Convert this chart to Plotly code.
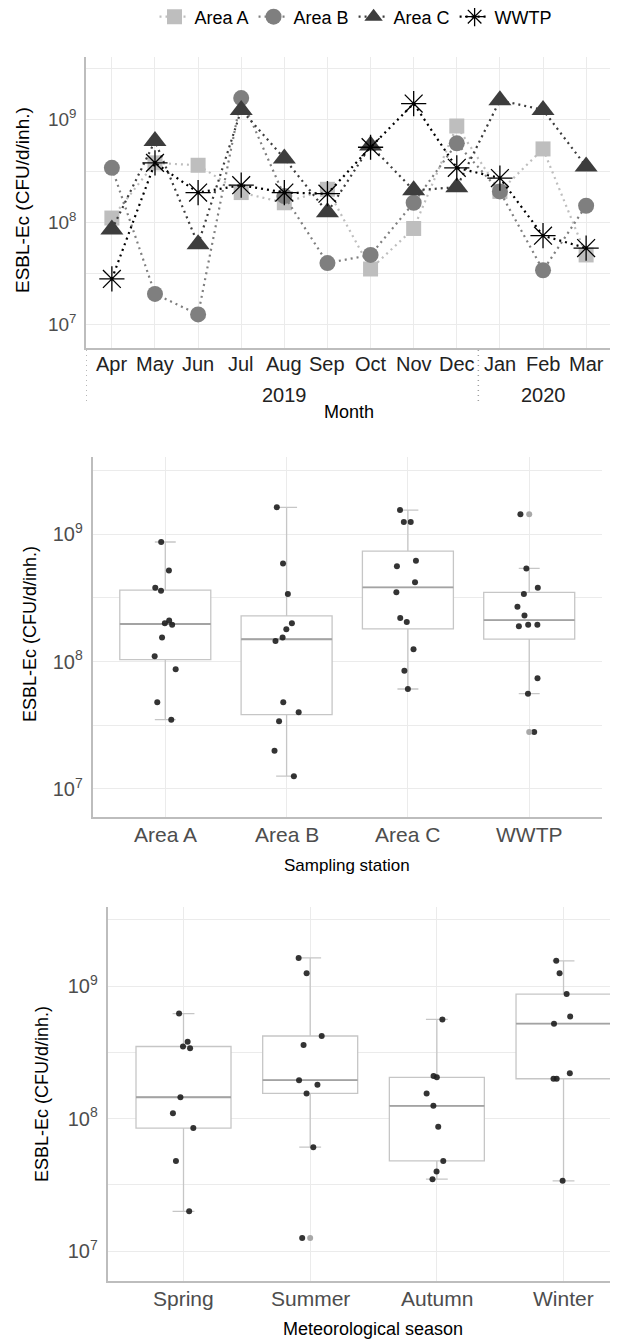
import numpy as np
import plotly.graph_objects as go

# ---------------- data ----------------
months = ["Apr", "May", "Jun", "Jul", "Aug", "Sep", "Oct", "Nov", "Dec", "Jan", "Feb", "Mar"]
years = ["2019"] * 9 + ["2020"] * 3
area_a = [1.1e8, 3.8e8, 3.6e8, 1.95e8, 1.55e8, 2.1e8, 3.5e7, 8.7e7, 8.7e8, 2.0e8, 5.2e8, 4.8e7]
area_b = [3.4e8, 2.0e7, 1.26e7, 1.63e9, 1.8e8, 4.0e7, 4.8e7, 1.55e8, 5.9e8, 2.0e8, 3.4e7, 1.45e8]
area_c = [8.5e7, 6.2e8, 6.1e7, 1.25e9, 4.2e8, 1.25e8, 5.6e8, 2.05e8, 2.2e8, 1.55e9, 1.25e9, 3.5e8]
wwtp = [2.8e7, 3.8e8, 1.95e8, 2.3e8, 1.95e8, 1.9e8, 5.4e8, 1.44e9, 3.4e8, 2.7e8, 7.4e7, 5.6e7]
stations = ["Area A", "Area B", "Area C", "WWTP"]
seasons = ["Spring", "Summer", "Autumn", "Winter"]
season_of_month = ["Spring", "Spring", "Summer", "Summer", "Summer", "Autumn",
                   "Autumn", "Autumn", "Winter", "Winter", "Winter", "Spring"]
ytick_vals = [7, 8, 9]
ytick_text = ["10<sup>7</sup>", "10<sup>8</sup>", "10<sup>9</sup>"]
y_title = "ESBL-Ec (CFU/d/inh.)"

series = {"Area A": area_a, "Area B": area_b, "Area C": area_c, "WWTP": wwtp}
styles = {
    "Area A": dict(symbol="square", color="#BEBEBE", size=15),
    "Area B": dict(symbol="circle", color="#7F7F7F", size=16),
    "Area C": dict(symbol="triangle-up", color="#3D3D3D", size=20),
    "WWTP": dict(symbol="asterisk-open", color="#000000", size=21),
}

# the page body has an 8px margin, so the figure is drawn 8px in from the
# window's top-left corner; positions below are given in window pixels
OFF = 8
W, H = 618 - OFF, 1342 - OFF
FONT = "Liberation Sans, Arial, sans-serif"


def px_x(p):
    return (p - OFF) / W


def px_y(p):
    return 1 - (p - OFF) / H


def box_stats(vals):
    v = np.sort(np.log10(np.asarray(vals, dtype=float)))
    q1, med, q3 = np.percentile(v, [25, 50, 75])
    iqr = q3 - q1
    lo = v[v >= q1 - 1.5 * iqr].min()
    hi = v[v <= q3 + 1.5 * iqr].max()
    out = v[(v < lo) | (v > hi)]
    return q1, med, q3, lo, hi, out


fig = go.Figure()

# ---------------- panel 1: monthly lines ----------------
for name, vals in series.items():
    st = styles[name]
    marker = dict(symbol=st["symbol"], size=st["size"], color=st["color"])
    if name == "WWTP":
        marker["line"] = dict(color="#000000", width=1.3)
    fig.add_trace(go.Scatter(
        x=months, y=np.log10(vals), name=name,
        mode="lines+markers",
        line=dict(color=st["color"], width=2.2, dash="2px,4px"),
        marker=marker, xaxis="x", yaxis="y"))

# ---------------- panel 2 & 3: boxplots ----------------
def add_box_panel(groups, cats, xa, ya):
    stats = [box_stats(groups[c]) for c in cats]
    fig.add_trace(go.Box(
        x=cats, q1=[s[0] for s in stats], median=[s[1] for s in stats],
        q3=[s[2] for s in stats], lowerfence=[s[3] for s in stats],
        upperfence=[s[4] for s in stats], boxpoints=False,
        width=0.75, whiskerwidth=0.23, fillcolor="white",
        line=dict(color="#C6C6C6", width=1.3), showlegend=False,
        xaxis=xa, yaxis=ya))
    # darker median line
    meds = [s[1] for s in stats]
    fig.add_trace(go.Box(
        x=cats, q1=meds, median=meds, q3=meds, lowerfence=meds, upperfence=meds,
        boxpoints=False, width=0.75, whiskerwidth=0, fillcolor="rgba(0,0,0,0)",
        line=dict(color="#A3A3A3", width=1.8), showlegend=False,
        xaxis=xa, yaxis=ya))
    ox, oy = [], []
    for c, s in zip(cats, stats):
        ox += [c] * len(s[5])
        oy += list(s[5])
    fig.add_trace(go.Scatter(
        x=ox, y=oy, mode="markers", marker=dict(color="#A8A8A8", size=6),
        showlegend=False, xaxis=xa, yaxis=ya))
    jx, jy = [], []
    for c in cats:
        jx += [c] * len(groups[c])
        jy += list(np.log10(groups[c]))
    fig.add_trace(go.Box(
        x=jx, y=jy, boxpoints="all", jitter=0.3, pointpos=0,
        width=0.75, whiskerwidth=0, fillcolor="rgba(0,0,0,0)",
        line=dict(color="rgba(0,0,0,0)", width=0),
        marker=dict(color="#1E1E1E", size=6, opacity=0.9, line=dict(width=0)),
        showlegend=False, xaxis=xa, yaxis=ya))


add_box_panel(series, stations, "x2", "y2")

season_groups = {s: [] for s in seasons}
for i, s in enumerate(season_of_month):
    for name in ["Area A", "Area B", "Area C"]:
        season_groups[s].append(series[name][i])
add_box_panel(season_groups, seasons, "x3", "y3")

# ---------------- layout ----------------
grid = "#EBEBEB"
axis_line = "#BDBDBD"
yaxis_common = dict(
    tickmode="array", tickvals=ytick_vals, ticktext=ytick_text,
    showgrid=True, gridcolor=grid, gridwidth=1, zeroline=False,
    minor=dict(tickmode="linear", tick0=6.5, dtick=1, showgrid=True,
               gridcolor=grid, gridwidth=1, ticklen=0),
    ticks="", showline=True, linecolor=axis_line, linewidth=1.5,
    ticklabelstandoff=4, automargin=False)
xcat_common = dict(type="category", showgrid=True, gridcolor=grid,
                   showline=True, linecolor=axis_line, linewidth=1.5, ticks="",
                   showticklabels=False, automargin=False, zeroline=False)

layout = dict(
    width=W, height=H, margin=dict(l=0, r=0, t=0, b=0, autoexpand=False),
    paper_bgcolor="white", plot_bgcolor="white",
    font=dict(family=FONT, color="#000000"),
    boxmode="overlay",
    showlegend=True,
    legend=dict(orientation="h", x=px_x(356), xanchor="center",
                y=px_y(17), yanchor="middle", font=dict(size=18, color="#000"),
                itemwidth=30, tracegroupgap=0, bgcolor="rgba(0,0,0,0)"),
    xaxis=dict(domain=[px_x(86), px_x(612)], anchor="y",
               categoryorder="array", categoryarray=months,
               range=[-0.6, 11.6], **xcat_common),
    yaxis=dict(domain=[px_y(348), px_y(57)], anchor="x", range=[6.773, 9.613],
               tickfont=dict(size=19, color="#4D4D4D"), **yaxis_common),
    xaxis2=dict(domain=[px_x(92.5), px_x(602)], anchor="y2",
                categoryorder="array", categoryarray=stations,
                range=[-0.6, 3.6], **xcat_common),
    yaxis2=dict(domain=[px_y(817), px_y(457)], anchor="x2", range=[6.78, 9.607],
                tickfont=dict(size=20, color="#4D4D4D"), **yaxis_common),
    xaxis3=dict(domain=[px_x(107.5), 1.0], anchor="y3",
                categoryorder="array", categoryarray=seasons,
                range=[-0.6, 3.43], **xcat_common),
    yaxis3=dict(domain=[px_y(1281), px_y(907)], anchor="x3", range=[6.776, 9.596],
                tickfont=dict(size=20, color="#4D4D4D"), **yaxis_common),
)
fig.update_layout(**layout)


def cat_labels(cats, xref, ypx, size, color):
    for c in cats:
        fig.add_annotation(text=c, x=c, y=px_y(ypx), xref=xref, yref="paper",
                           showarrow=False,
                           font=dict(size=size, color=color, family=FONT),
                           xanchor="center", yanchor="middle")


# category tick labels
cat_labels(months, "x", 364, 20, "#222222")
cat_labels(stations, "x2", 834, 21, "#4D4D4D")
cat_labels(seasons, "x3", 1298, 21, "#4D4D4D")

# year group labels and dotted dividers under the month axis
year_names = sorted(set(years))
for yname in year_names:
    idx = [i for i, yv in enumerate(years) if yv == yname]
    fig.add_annotation(text=yname, x=float(np.mean(idx)), y=px_y(395), xref="x",
                       yref="paper", showarrow=False,
                       font=dict(size=20, color="#222222", family=FONT),
                       xanchor="center", yanchor="middle")
boundaries = [-0.6] + [i - 0.5 for i in range(1, len(years)) if years[i] != years[i - 1]]
for b in boundaries:
    fig.add_shape(type="line", xref="x", yref="paper", x0=b, x1=b,
                  y0=px_y(350), y1=px_y(405),
                  line=dict(color="#A0A0A0", width=1.5, dash="1px,4px"))

ann = [
    dict(text=y_title, x=px_x(23), y=px_y(200), textangle=-90, size=19),
    dict(text="Month", x=px_x(349), y=px_y(412), textangle=0, size=18),
    dict(text=y_title, x=px_x(30), y=px_y(634), textangle=-90, size=18),
    dict(text="Sampling station", x=px_x(347), y=px_y(865), textangle=0, size=17),
    dict(text=y_title, x=px_x(42), y=px_y(1094), textangle=-90, size=18),
    dict(text="Meteorological season", x=px_x(373), y=px_y(1329), textangle=0, size=18),
]
for a in ann:
    fig.add_annotation(text=a["text"], x=a["x"], y=a["y"], xref="paper", yref="paper",
                       showarrow=False, textangle=a["textangle"],
                       font=dict(size=a["size"], color="#000000", family=FONT),
                       xanchor="center", yanchor="middle")

fig.write_html("out.html")
